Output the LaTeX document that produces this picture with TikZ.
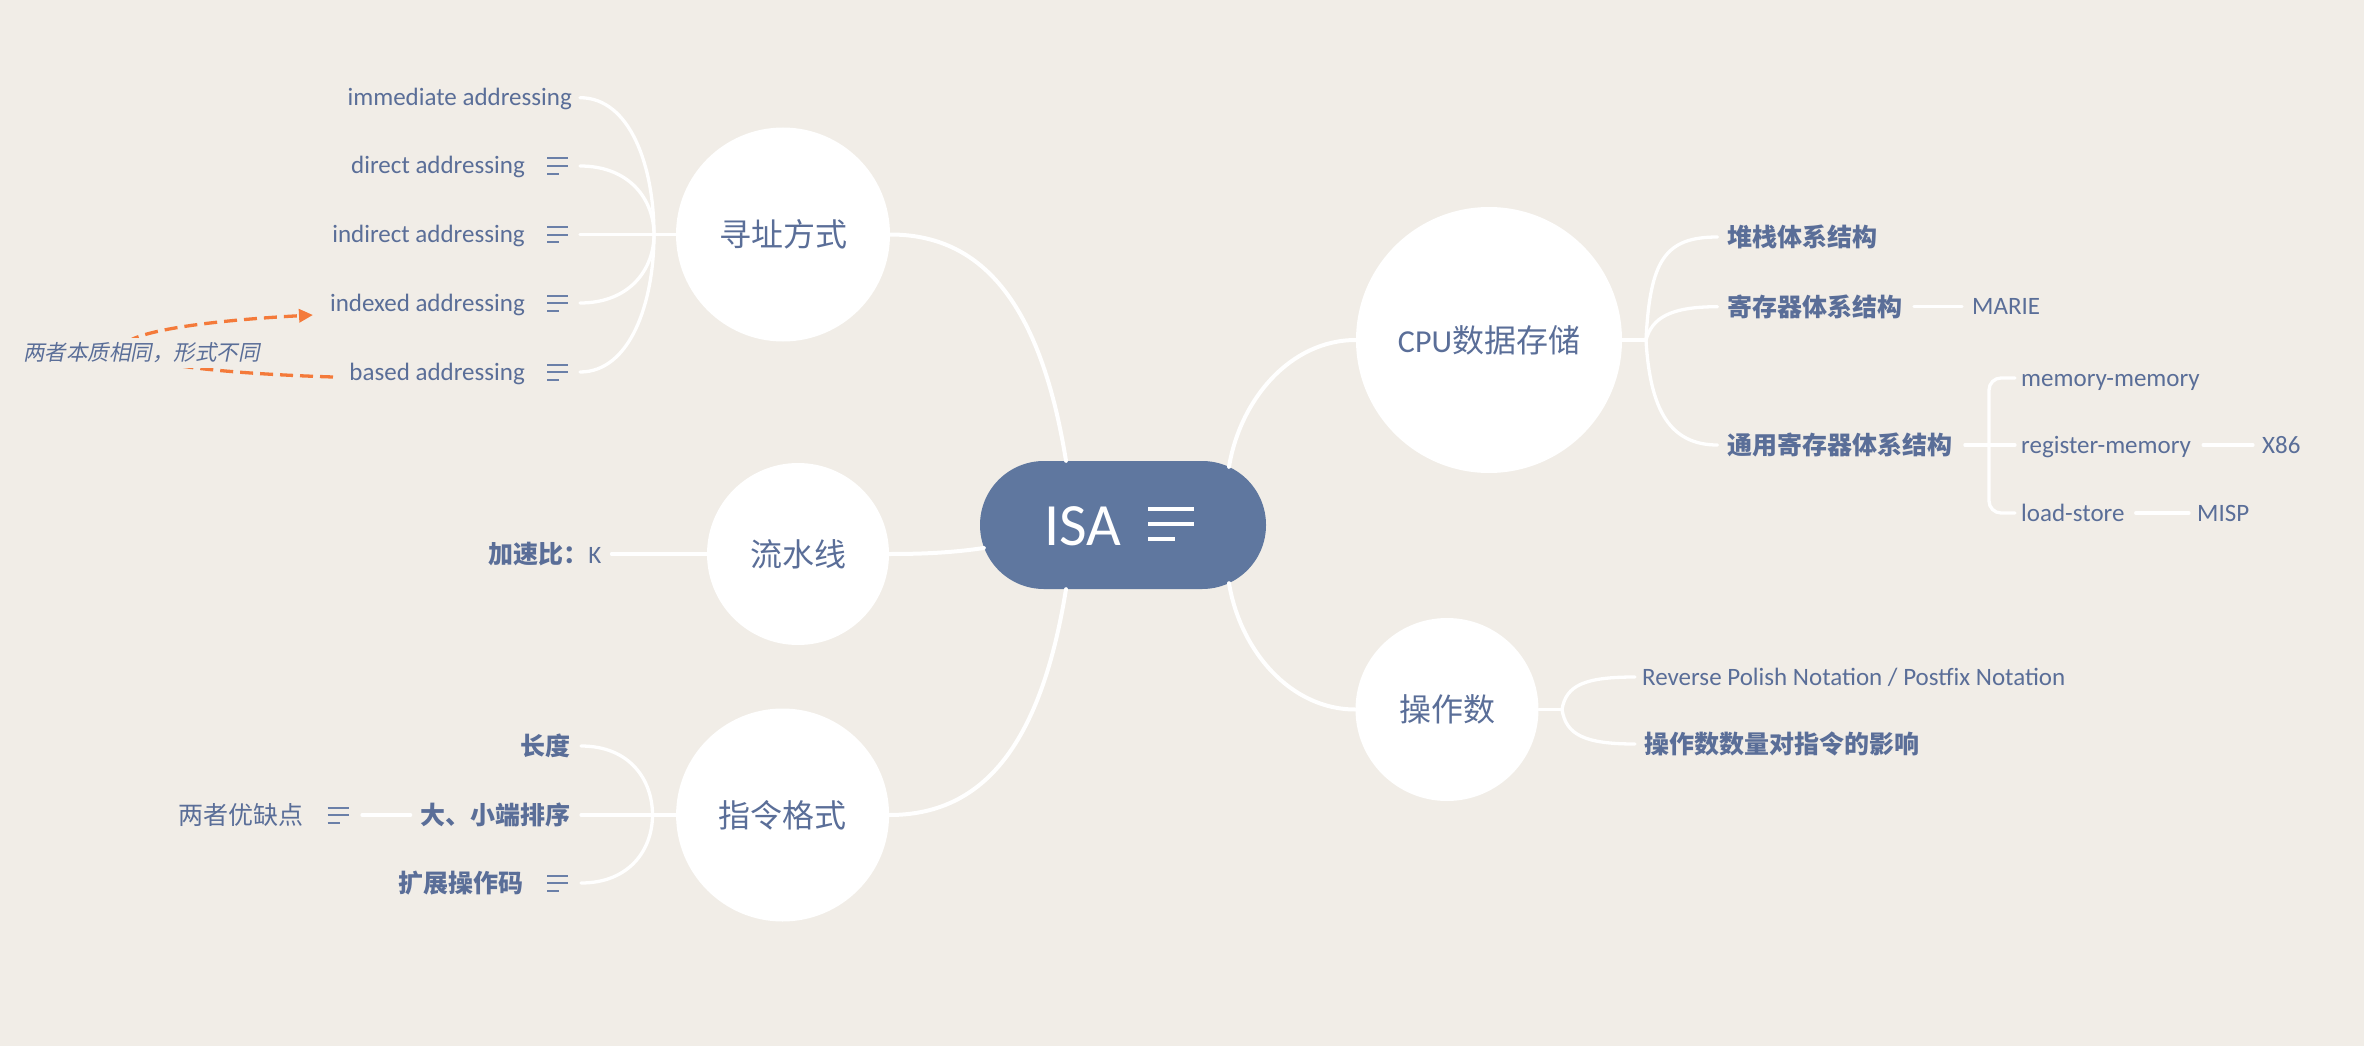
\documentclass[tikz,border=0pt]{standalone}
\usepackage{fontspec}
\setmainfont{Carlito}
\newfontfamily\cjk{Noto Sans CJK SC}
\newfontfamily\cjkit{Noto Sans CJK SC}[FakeSlant=0.2]
\usetikzlibrary{arrows.meta,calc}
\definecolor{bg}{HTML}{F1EDE7}
\definecolor{tblue}{HTML}{5A6E98}
\definecolor{isablue}{HTML}{5F779F}
\definecolor{iconblue}{HTML}{6B80A8}
\definecolor{relor}{HTML}{F47A3A}
\begin{document}
\begin{tikzpicture}[x=1pt,y=-1pt,
  every node/.style={inner sep=0pt, text=tblue},
  mainline/.style={draw=white, line width=4pt, line cap=round},
  leafline/.style={draw=white, line width=3.3pt, line cap=round},
  topic/.style={circle, fill=white, font=\cjk\fontsize{32}{38}\selectfont},
  lat/.style={font=\fontsize{25}{30}\selectfont, text height=18pt, text depth=2pt},
  zh/.style={font=\cjk\fontsize{25}{30}\selectfont, text height=22pt, text depth=3pt},
  zhb/.style={font=\cjk\bfseries\fontsize{25}{30}\selectfont, text height=22pt, text depth=3pt},
  iconline/.style={draw=iconblue, line width=2pt},
  relline/.style={draw=relor, line width=3.3pt, dash pattern=on 13pt off 7pt},
  pics/noteicon/.style={code={\draw[iconline] (0,-7.5)--(21,-7.5) (0,0)--(21,0) (0,7.5)--(12,7.5);}},
]
\useasboundingbox (0,0) rectangle (2364,1046);
\fill[bg] (0,0) rectangle (2364,1046);

% central topic
\node[fill=isablue, rounded corners=63.9pt, minimum width=286pt, minimum height=128pt] (isa) at (1123,525) {};
\node[font=\fontsize{60}{70}\selectfont, text=white, anchor=base] (isalbl) at (1082.5,545) {ISA};
\draw[white, line width=4pt] (1148,509)--(1194,509) (1148,524)--(1194,524) (1148,539)--(1175,539);

% main topics
\node[topic, minimum size=214pt] (addr) at (783,234.5) {寻址方式};
\node[topic, minimum size=182pt] (pipe) at (798,554) {流水线};
\node[topic, minimum size=213pt] (fmt) at (782.6,815) {指令格式};
\node[topic, minimum size=266pt] (cpu) at (1489,340) {{\rmfamily CPU}数据存储};
\node[topic, minimum size=183pt] (opnd) at (1447,709.5) {操作数};

\draw[mainline] ($(isa.north)+(-57,0)$) .. controls (1040,300) and (980,234.5) .. (addr.east);
\draw[mainline] ($(isa.west)+(4,23)$) .. controls (950,553) and (920,554) .. (pipe.east);
\draw[mainline] ($(isa.south)+(-57,0)$) .. controls (1040,750) and (980,815) .. (fmt.east);
\draw[mainline] ($(isa.north)+(106,6)$) .. controls (1240,400) and (1290,340) .. (cpu.west);
\draw[mainline] ($(isa.south)+(106,-6)$) .. controls (1240,650) and (1290,709.5) .. (opnd.west);

% addressing leaves
\node[lat, anchor=east] (imm) at (572,97.7) {immediate addressing};
\node[lat, anchor=east] (dir) at (525,166) {direct addressing};
\node[lat, anchor=east] (ind) at (525,234.5) {indirect addressing};
\node[lat, anchor=east] (idx) at (525,303) {indexed addressing};
\node[lat, anchor=east] (bas) at (525,372) {based addressing};
\pic at (547,166) {noteicon};
\pic at (547,234.5) {noteicon};
\pic at (547,303) {noteicon};
\pic at (547,372) {noteicon};
\coordinate (jA) at (654,234.5);
\draw[leafline] (addr.west) -- (jA);
\draw[leafline] ($(imm.east)+(8,0)$) .. controls (630,97.7) and (654,166) .. (jA);
\draw[leafline] ($(dir.east)+(55,0)$) .. controls (630,166) and (654,200) .. (jA);
\draw[leafline] ($(ind.east)+(55,0)$) -- (jA);
\draw[leafline] ($(idx.east)+(55,0)$) .. controls (630,303) and (654,269) .. (jA);
\draw[leafline] ($(bas.east)+(55,0)$) .. controls (630,372) and (654,303) .. (jA);

% relationship
\draw[relline, -{Triangle[length=14pt,width=13pt]}] ($(bas.east)+(-192,5)$) .. controls (50,368) and (70,328) .. ($(idx.east)+(-212,12)$);
\node[font=\cjkit\fontsize{21.5}{26}\selectfont, fill=bg, inner xsep=2pt, inner ysep=5pt, anchor=west] (note) at (21,353) {两者本质相同，形式不同};

% pipeline leaf
\node[zhb, anchor=east] (spd) at (601.5,554) {加速比：{\rmfamily\mdseries K}};
\draw[leafline] ($(spd.east)+(10,0)$) -- (pipe.west);

% format leaves
\node[zhb, anchor=east] (len) at (571,746) {长度};
\node[zhb, anchor=east] (endn) at (571,815) {大、小端排序};
\node[zhb, anchor=east] (ext) at (524,883) {扩展操作码};
\pic at (547,883) {noteicon};
\node[zh, anchor=east] (pros) at (304,815) {两者优缺点};
\pic at (327.5,815) {noteicon};
\draw[leafline] ($(pros.east)+(58,0)$) -- ($(endn.west)+(-10,0)$);
\coordinate (jF) at (652.5,815);
\draw[leafline] (fmt.west) -- (jF);
\draw[leafline] ($(len.east)+(10,0)$) .. controls (630,746) and (652.5,780) .. (jF);
\draw[leafline] ($(endn.east)+(10,0)$) -- (jF);
\draw[leafline] ($(ext.east)+(57,0)$) .. controls (630,883) and (652.5,849) .. (jF);

% cpu leaves
\coordinate (jC) at (1646,340);
\draw[leafline] (cpu.east) -- (jC);
\node[zhb, anchor=west] (stk) at (1727.5,237) {堆栈体系结构};
\node[zhb, anchor=west] (reg) at (1727.5,306.7) {寄存器体系结构};
\node[zhb, anchor=west] (gpr) at (1727.5,445) {通用寄存器体系结构};
\draw[leafline] (jC) .. controls (1650,260) and (1665,237) .. ($(stk.west)+(-10,0)$);
\draw[leafline] (jC) .. controls (1652,318) and (1670,306.7) .. ($(reg.west)+(-10,0)$);
\draw[leafline] (jC) .. controls (1650,410) and (1670,445) .. ($(gpr.west)+(-10,0)$);
\node[lat, anchor=west] (marie) at (1972,306.7) {MARIE};
\draw[leafline] ($(reg.east)+(11,0)$) -- ($(marie.west)+(-10,0)$);
\coordinate (jG) at (1989,445);
\draw[leafline] ($(gpr.east)+(12,0)$) -- (jG);
\node[lat, anchor=west] (mm) at (2021,378) {memory-memory};
\node[lat, anchor=west] (rm) at (2021,445) {register-memory};
\node[lat, anchor=west] (ls) at (2021,513) {load-store};
\draw[leafline, rounded corners=12pt] ($(mm.west)+(-6,0)$) -| (jG) |- ($(ls.west)+(-6,0)$);
\draw[leafline] (jG) -- ($(rm.west)+(-6,0)$);
\node[lat, anchor=west] (x86) at (2262,445) {X86};
\draw[leafline] ($(rm.east)+(12,0)$) -- ($(x86.west)+(-9,0)$);
\node[lat, anchor=west] (misp) at (2197,513) {MISP};
\draw[leafline] ($(ls.east)+(11,0)$) -- ($(misp.west)+(-8,0)$);

% operand leaves
\coordinate (jO) at (1562,709.5);
\draw[leafline] (opnd.east) -- (jO);
\node[lat, anchor=west] (rpn) at (1642,677) {Reverse Polish Notation / Postfix Notation};
\node[zhb, anchor=west] (cnt) at (1644,744) {操作数数量对指令的影响};
\draw[leafline] (jO) .. controls (1566,685) and (1585,677) .. ($(rpn.west)+(-7,0)$);
\draw[leafline] (jO) .. controls (1566,735) and (1585,744) .. ($(cnt.west)+(-9,0)$);
\end{tikzpicture}
\end{document}
